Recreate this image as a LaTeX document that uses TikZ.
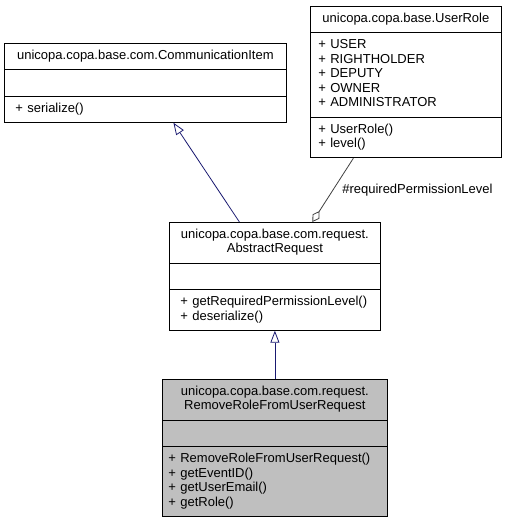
\documentclass[tikz,border=0pt]{standalone}
\usepackage{fontspec}
\setmainfont{Liberation Sans}
\usetikzlibrary{shapes.multipart}
\usetikzlibrary{arrows.meta}
\definecolor{edgeblue}{HTML}{191970}
\definecolor{edgegray}{HTML}{404040}
\definecolor{curfill}{HTML}{BFBFBF}
\tikzset{
  umlclass/.style={rectangle split, rectangle split parts=3, draw=black, line width=0.8pt,
    anchor=north west, align=left, inner ysep=5.5pt, font=\fontsize{13}{14.5}\selectfont},
  inherit/.style={edgeblue, line width=0.8pt, -{Triangle[open,length=12pt,width=9pt]}},
  aggregate/.style={edgegray, line width=0.8pt, -{Diamond[open,length=13pt,width=8pt]}}
}
\newcommand\cltitle[1]{\makebox[\linewidth][c]{\strut#1}}
\begin{document}
\begin{tikzpicture}[x=1pt,y=-1pt]
\useasboundingbox (0,0) rectangle (505,520);

\node[umlclass, inner xsep=8pt, text width=175pt] (userrole) at (310,6)
  {\cltitle{unicopa.copa.base.UserRole}
   \nodepart{two}\strut + USER\\ + RIGHTHOLDER\\ + DEPUTY\\ + OWNER\\ + ADMINISTRATOR\strut
   \nodepart{three}\strut + UserRole()\\ + level()\strut};

\node[umlclass, inner xsep=11pt, text width=260pt] (commitem) at (4,43)
  {\cltitle{unicopa.copa.base.com.CommunicationItem}
   \nodepart{two}\strut
   \nodepart{three}\strut + serialize()\strut};

\node[umlclass, inner xsep=11pt, text width=189pt] (abstractreq) at (169,222)
  {\cltitle{unicopa.copa.base.com.request.}\\ \cltitle{AbstractRequest}
   \nodepart{two}\strut
   \nodepart{three}\strut + getRequiredPermissionLevel()\\ + deserialize()\strut};

\node[umlclass, fill=curfill, inner xsep=6pt, text width=213pt] (removerole) at (162,379)
  {\cltitle{unicopa.copa.base.com.request.}\\ \cltitle{RemoveRoleFromUserRequest}
   \nodepart{two}\strut
   \nodepart{three}\strut + RemoveRoleFromUserRequest()\\ + getEventID()\\ + getUserEmail()\\ + getRole()\strut};

\draw[inherit] ([xshift=-35.5pt]abstractreq.north) -- ([xshift=28pt]commitem.south);
\draw[inherit] (removerole.north) -- (abstractreq.south);
\draw[aggregate] ([xshift=-52.5pt]userrole.south) -- ([xshift=37.5pt]abstractreq.north)
  node[midway, right=7pt, inner sep=2pt, text=black, font=\fontsize{13}{14}\selectfont] (permlabel) {\#requiredPermissionLevel};
\end{tikzpicture}
\end{document}
